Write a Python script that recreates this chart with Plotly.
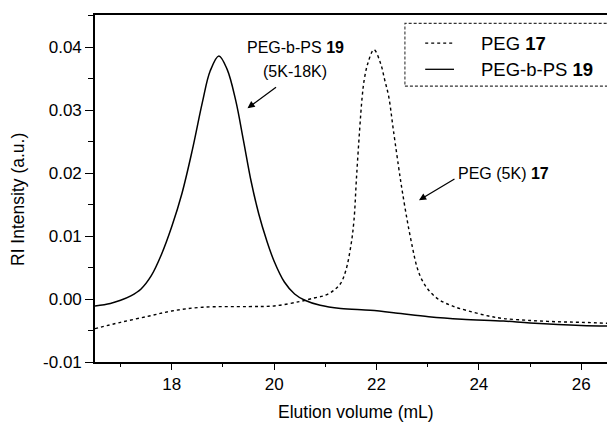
import plotly.graph_objects as go

# ---- data ----
peg_x = [16.5, 17.0, 17.56, 18.0, 18.6, 19.5, 20.0, 20.5, 20.8, 21.0, 21.17, 21.3, 21.4, 21.5,
         21.56, 21.61, 21.67, 21.72, 21.76, 21.83, 21.95, 22.08, 22.16, 22.24, 22.33, 22.46, 22.51,
         22.6, 22.7, 22.79, 22.89, 23.02, 23.22, 23.48, 23.8, 24.19, 24.48, 25.0, 25.5, 26.0, 26.66]
peg_y = [-0.0047, -0.0037, -0.0027, -0.0019, -0.0013, -0.0012, -0.0011, -0.0004, 0.0002, 0.0006,
         0.0014, 0.0025, 0.0045, 0.0085, 0.0125, 0.0194, 0.0268, 0.0321, 0.0348, 0.0374, 0.0396,
         0.0374, 0.0348, 0.0321, 0.0268, 0.0194, 0.0168, 0.0125, 0.0083, 0.0051, 0.0030, 0.0014,
         -0.0001, -0.0011, -0.0019, -0.0027, -0.0031, -0.0034, -0.0036, -0.0037, -0.0039]

ps_x = [16.5, 16.8, 17.0, 17.2, 17.4, 17.6, 17.8, 18.0, 18.2, 18.4, 18.6, 18.75, 18.92,
        19.08, 19.25, 19.4, 19.55, 19.7, 19.85, 20.0, 20.2, 20.4, 20.6, 20.9, 21.3,
        21.88, 22.37, 23.02, 23.67, 24.48, 25.0, 26.0, 26.66]
ps_y = [-0.0011, -0.0007, -0.0002, 0.0005, 0.0016, 0.0037, 0.0071, 0.0115, 0.0168, 0.0236, 0.0313,
        0.0362, 0.0386, 0.0365, 0.0315, 0.0252, 0.0187, 0.0135, 0.0094, 0.0060, 0.0027, 0.0008,
        -0.0002, -0.0010, -0.0015, -0.0018, -0.0022, -0.0028, -0.0032, -0.0035, -0.0038,
        -0.0042, -0.0043]

x_ticks = [18, 20, 22, 24, 26]
x_ticklabels = ["18", "20", "22", "24", "26"]
y_ticks = [-0.01, 0.0, 0.01, 0.02, 0.03, 0.04]
y_ticklabels = ["-0.01", "0.00", "0.01", "0.02", "0.03", "0.04"]

FONT = "Liberation Sans, Arial, sans-serif"

fig = go.Figure()
fig.add_trace(go.Scatter(x=peg_x, y=peg_y, mode="lines", name="PEG <b>17</b>",
                         line=dict(color="black", width=1.4, dash="dot", shape="spline", smoothing=1.0)))
fig.add_trace(go.Scatter(x=ps_x, y=ps_y, mode="lines", name="PEG-b-PS <b>19</b>",
                         line=dict(color="black", width=1.5, shape="spline", smoothing=1.0)))

# page body has an 8px default margin, so the figure is 8px smaller and margins shifted
fig.update_layout(
    width=607, height=414,
    margin=dict(l=87, r=0, t=7, b=60),
    paper_bgcolor="white", plot_bgcolor="white",
    showlegend=False,
    font=dict(family=FONT, color="black", size=17),
    xaxis=dict(range=[16.5, 26.66], tickvals=x_ticks, ticktext=x_ticklabels,
               showgrid=False, zeroline=False, showline=True, linecolor="black", linewidth=1.6,
               mirror=True, ticks="outside", ticklen=6, tickwidth=1.3, tickcolor="black",
               tickfont=dict(size=17),
               minor=dict(dtick=1, tick0=17, ticks="outside", ticklen=3, tickwidth=1.2, tickcolor="black")),
    yaxis=dict(range=[-0.01, 0.0451], tickvals=y_ticks, ticktext=y_ticklabels,
               showgrid=False, zeroline=False, showline=True, linecolor="black", linewidth=1.6,
               ticks="outside", ticklen=8, tickwidth=1.3, tickcolor="black",
               tickfont=dict(size=17),
               minor=dict(dtick=0.005, tick0=0.005, ticks="outside", ticklen=5, tickwidth=1.2, tickcolor="black")),
)

# axis titles
fig.add_annotation(text="Elution volume (mL)", xref="paper", yref="paper", x=(356 - 95) / 520, y=0.0,
                   yshift=-50, showarrow=False, font=dict(size=17.5), xanchor="center", yanchor="middle")
fig.add_annotation(text="RI Intensity (a.u.)", xref="paper", yref="paper", x=0, y=(362 - 200) / 347,
                   xshift=-77, showarrow=False, textangle=-90, font=dict(size=17.5),
                   xanchor="center", yanchor="middle")

# in-plot annotations
fig.add_annotation(text="PEG-b-PS <b>19</b>", x=20.42, y=0.0400, showarrow=False, font=dict(size=16))
fig.add_annotation(text="(5K-18K)", x=20.41, y=0.0361, showarrow=False, font=dict(size=16))
fig.add_annotation(text="", x=19.48, y=0.0303, ax=30, ay=-22, showarrow=True,
                   arrowhead=2, arrowsize=1.1, arrowwidth=1.3, arrowcolor="black")
fig.add_annotation(text="PEG (5K) <b>17</b>", x=24.48, y=0.0200, showarrow=False, font=dict(size=16))
fig.add_annotation(text="", x=22.83, y=0.0157, ax=37, ay=-22, showarrow=True,
                   arrowhead=2, arrowsize=1.1, arrowwidth=1.3, arrowcolor="black")

# legend box (drawn manually to match layout)
fig.add_shape(type="rect", xref="paper", yref="paper", x0=0.596, x1=0.994, y0=0.795, y1=0.976,
              line=dict(color="#333333", width=1.1, dash="3px,2px"))
legend_rows = [(0.919, "dot", "PEG <b>17</b>"), (0.8435, "solid", "PEG-b-PS <b>19</b>")]
for yy, dsh, label in legend_rows:
    fig.add_shape(type="line", xref="paper", yref="paper", x0=0.635, x1=0.6904, y0=yy, y1=yy,
                  line=dict(color="black", width=1.3, dash=dsh))
    fig.add_annotation(text=label, xref="paper", yref="paper", x=0.738, y=yy, showarrow=False,
                       xanchor="left", yanchor="middle", font=dict(size=18.5))

fig.write_html("out.html")
